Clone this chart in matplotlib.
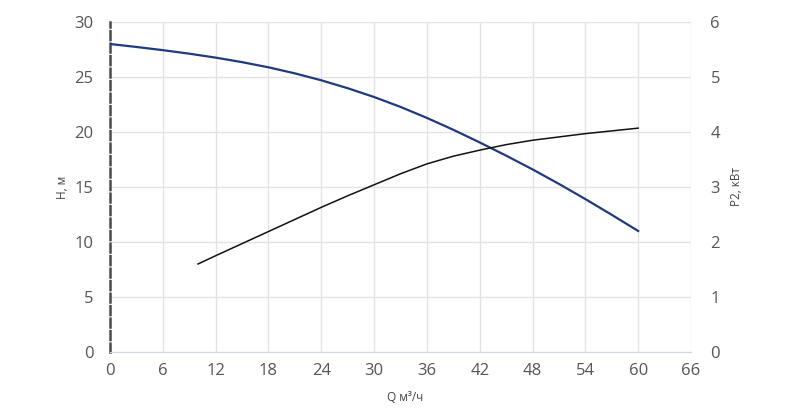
import numpy as np
import matplotlib.pyplot as plt

plt.rcParams['font.family'] = ['Open Sans', 'DejaVu Sans']

q_h = [0, 3, 6, 9, 12, 15, 18, 21, 24, 27, 30, 33, 36, 39, 42, 45, 48, 51, 54, 57, 60]
head = [28.0, 27.73, 27.44, 27.12, 26.76, 26.35, 25.88, 25.33, 24.7, 23.98, 23.18,
        22.28, 21.28, 20.2, 19.05, 17.85, 16.6, 15.28, 13.9, 12.47, 11.0]

q_p = [10, 12, 15, 18, 21, 24, 27, 30, 33, 36, 39, 42, 45, 48, 51, 54, 57, 60]
power = [1.6, 1.75, 1.97, 2.19, 2.41, 2.63, 2.84, 3.04, 3.24, 3.42, 3.56, 3.67,
         3.77, 3.85, 3.91, 3.97, 4.02, 4.07]

x_ticks = list(range(0, 67, 6))

fig = plt.figure(figsize=(8, 4.08), dpi=100)
ax = fig.add_axes([0.1375, 0.1373, 0.72625, 0.8088])
ax2 = ax.twinx()

grid_c = '#e3e3e3'
ax.set_xlim(0, 66)
ax.set_ylim(0, 30)
ax2.set_ylim(0, 6)
ax.set_xticks(x_ticks)
ax.set_yticks(range(0, 31, 5))
ax2.set_yticks(range(0, 7))
ax.grid(True, color=grid_c, linewidth=1)
ax.set_axisbelow(True)

for a in (ax, ax2):
    for s in a.spines.values():
        s.set_visible(False)
    a.tick_params(length=0, labelsize=12, colors='#555555')
ax.tick_params(axis='y', pad=12)
ax.tick_params(axis='x', pad=8)
ax2.tick_params(axis='y', pad=14)

ax.spines['bottom'].set_visible(True)
ax.spines['bottom'].set_color('#ccd6eb')
ax.spines['left'].set_visible(True)
ax.spines['left'].set_color('#4a4a4a')
ax.spines['left'].set_linewidth(1.8)
ax.spines['left'].set_linestyle((0, (3.5, 1.5)))

ax.plot(q_h, head, color='#1f3a7f', linewidth=1.6, zorder=3)
ax2.plot(q_p, power, color='#111111', linewidth=1.1, zorder=3)

ax.set_xlabel('Q м³/ч', fontsize=8.5, color='#444444')
ax.xaxis.set_label_coords(0.508, -0.118)
ax.set_ylabel('H, м', fontsize=8.5, color='#444444')
ax.yaxis.set_label_coords(-0.07, 0.5)
ax2.set_ylabel('P2, кВт', fontsize=8.5, color='#444444')
ax2.yaxis.set_label_coords(1.067, 0.5)

fig.savefig('out.png', dpi=100)
